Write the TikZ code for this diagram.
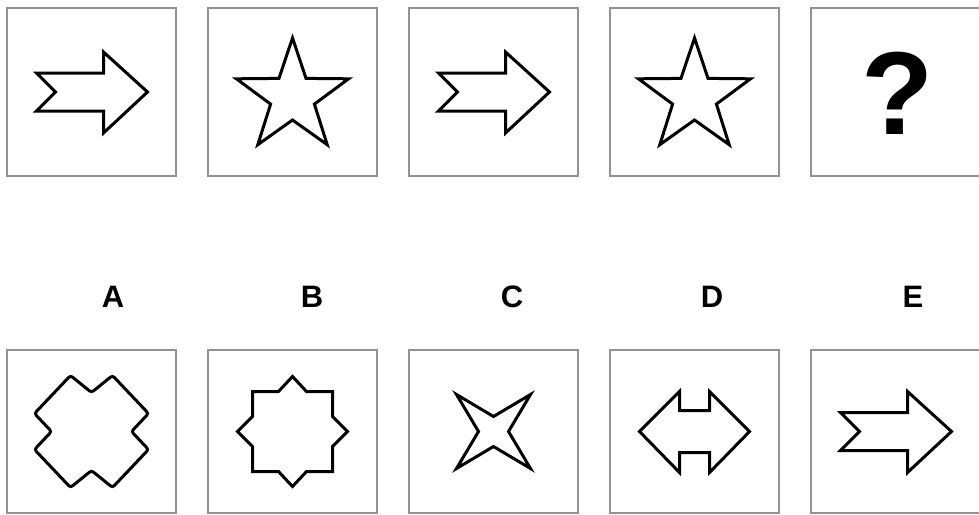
\documentclass[tikz,border=0pt]{standalone}
\usepackage{fontspec}
\setmainfont{Liberation Sans}
\usepackage{xcolor}
\usetikzlibrary{positioning}
\definecolor{framegray}{HTML}{929292}

\begin{document}
\begin{tikzpicture}[
    x=1pt,y=-1pt,
    panel/.style={draw=framegray,line width=2.5pt,minimum width=169pt,inner sep=0pt,outer sep=0pt},
    toppanel/.style={panel,minimum height=168pt},
    lowpanel/.style={panel,minimum height=163pt},
    figline/.style={draw=black,line width=3pt,line join=miter},
    lbl/.style={font=\fontsize{31}{31}\selectfont\bfseries,inner sep=0pt},
    qmark/.style={font=\fontsize{118}{118}\selectfont\bfseries,inner sep=0pt},
    pics/arrowfig/.style={code={
      \draw[figline] (-55,-19) -- (-36,0) -- (-55,19) -- (12,19) -- (12,41) -- (56,0) -- (12,-40) -- (12,-19) -- cycle;}},
    pics/starfig/.style={code={
      \draw[figline] (0,-54) -- (-13.5,-13.6) -- (-56.1,-13.2) -- (-21.9,12.1) -- (-34.7,52.7) -- (0,28)
        -- (34.7,52.7) -- (21.9,12.1) -- (56.1,-13.2) -- (13.5,-13.6) -- cycle;}}
  ]
    \useasboundingbox[fill=white] (0,0) rectangle (979,514);
    % question row
    \node[toppanel] (t1) at (91.5,92) {};
    \node[toppanel,right=32pt of t1] (t2) {};
    \node[toppanel,right=32pt of t2] (t3) {};
    \node[toppanel,right=32pt of t3] (t4) {};
    \node[toppanel,right=32pt of t4] (t5) {};
    \pic at (t1) {arrowfig};
    \pic at (t2) {starfig};
    \pic at (t3) {arrowfig};
    \pic at (t4) {starfig};
    \node[qmark] (q) at (898,93) {?};
    % answer letters
    \node[lbl] (la) at (113,297) {A};
    \node[lbl] (lb) at (312,297) {B};
    \node[lbl] (lc) at (512,297) {C};
    \node[lbl] (ld) at (712,297) {D};
    \node[lbl] (le) at (913,297) {E};
    % answer row
    \node[lowpanel] (b1) at (91.5,431.5) {};
    \node[lowpanel,right=32pt of b1] (b2) {};
    \node[lowpanel,right=32pt of b2] (b3) {};
    \node[lowpanel,right=32pt of b3] (b4) {};
    \node[lowpanel,right=32pt of b4] (b5) {};
    \begin{scope}[shift={(b1)}]
      \draw[figline,rounded corners=2.5pt] (-21,-56) -- (0,-39) -- (21,-56) -- (57,-18) -- (40,0) -- (57,18)
        -- (21,56) -- (0,39) -- (-21,56) -- (-57,18) -- (-40,0) -- (-57,-18) -- cycle;
    \end{scope}
    \begin{scope}[shift={(b2)}]
      \draw[figline] (-40,-40) -- (-14,-40) -- (0,-55) -- (14,-40) -- (40,-40) -- (40,-15) -- (55,0) -- (40,15)
        -- (40,40) -- (14,40) -- (0,55) -- (-14,40) -- (-40,40) -- (-40,15) -- (-55,0) -- (-40,-15) -- cycle;
    \end{scope}
    \begin{scope}[shift={(b3)}]
      \draw[figline] (-37,-37) -- (0,-15) -- (37,-37) -- (15,0) -- (37,37) -- (0,15) -- (-37,37) -- (-15,0) -- cycle;
    \end{scope}
    \begin{scope}[shift={(b4)}]
      \draw[figline] (-55,0) -- (-15,-40) -- (-15,-21) -- (15,-21) -- (15,-40) -- (55,0) -- (15,41) -- (15,21)
        -- (-15,21) -- (-15,41) -- cycle;
    \end{scope}
    \pic at (b5) {arrowfig};
  \end{tikzpicture}
\end{document}
